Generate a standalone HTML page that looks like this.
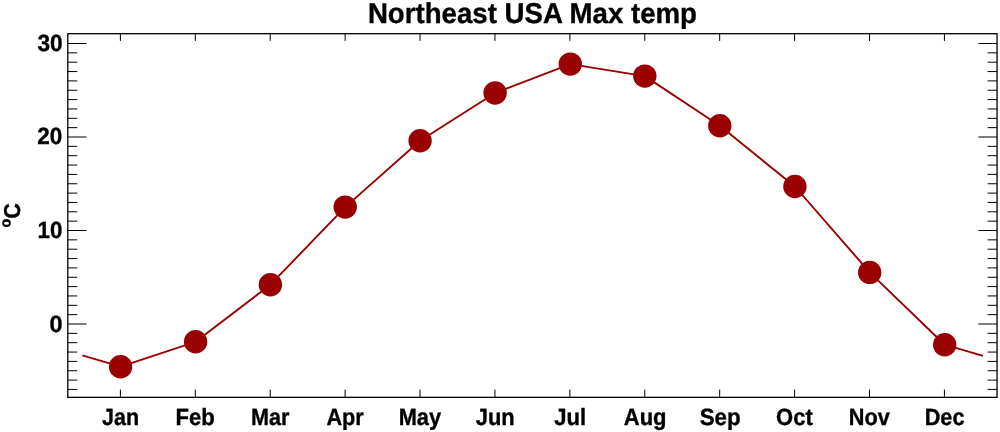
<!DOCTYPE html>
<html><head><meta charset="utf-8"><title>Northeast USA Max temp</title><style>
html,body{margin:0;padding:0;background:#fff;}
svg{display:block;will-change:transform;}
text{font-family:"Liberation Sans",sans-serif;font-weight:bold;fill:#000;stroke:#000;stroke-width:0.35px;text-rendering:geometricPrecision;}
</style></head><body>
<svg width="1000" height="432" viewBox="0 0 1000 432">
<rect width="1000" height="432" fill="#fff"/>
<text x="532.44" y="23.00" text-anchor="middle" font-size="28.6" textLength="329.10" lengthAdjust="spacingAndGlyphs">Northeast USA Max temp</text>
<path d="M67.80 389.45H77.25M997.05 389.45H987.60M67.80 380.10H77.25M997.05 380.10H987.60M67.80 370.75H77.25M997.05 370.75H987.60M67.80 361.40H77.25M997.05 361.40H987.60M67.80 352.05H77.25M997.05 352.05H987.60M67.80 342.70H77.25M997.05 342.70H987.60M67.80 333.35H77.25M997.05 333.35H987.60M67.80 324.00H86.50M997.05 324.00H978.35M67.80 314.65H77.25M997.05 314.65H987.60M67.80 305.30H77.25M997.05 305.30H987.60M67.80 295.95H77.25M997.05 295.95H987.60M67.80 286.60H77.25M997.05 286.60H987.60M67.80 277.25H77.25M997.05 277.25H987.60M67.80 267.90H77.25M997.05 267.90H987.60M67.80 258.55H77.25M997.05 258.55H987.60M67.80 249.20H77.25M997.05 249.20H987.60M67.80 239.85H77.25M997.05 239.85H987.60M67.80 230.50H86.50M997.05 230.50H978.35M67.80 221.15H77.25M997.05 221.15H987.60M67.80 211.80H77.25M997.05 211.80H987.60M67.80 202.45H77.25M997.05 202.45H987.60M67.80 193.10H77.25M997.05 193.10H987.60M67.80 183.75H77.25M997.05 183.75H987.60M67.80 174.40H77.25M997.05 174.40H987.60M67.80 165.05H77.25M997.05 165.05H987.60M67.80 155.70H77.25M997.05 155.70H987.60M67.80 146.35H77.25M997.05 146.35H987.60M67.80 137.00H86.50M997.05 137.00H978.35M67.80 127.65H77.25M997.05 127.65H987.60M67.80 118.30H77.25M997.05 118.30H987.60M67.80 108.95H77.25M997.05 108.95H987.60M67.80 99.60H77.25M997.05 99.60H987.60M67.80 90.25H77.25M997.05 90.25H987.60M67.80 80.90H77.25M997.05 80.90H987.60M67.80 71.55H77.25M997.05 71.55H987.60M67.80 62.20H77.25M997.05 62.20H987.60M67.80 52.85H77.25M997.05 52.85H987.60M67.80 43.50H86.50M997.05 43.50H978.35M120.40 397.35V389.6M120.40 33.70V40.9M195.31 397.35V389.6M195.31 33.70V40.9M270.22 397.35V389.6M270.22 33.70V40.9M345.13 397.35V389.6M345.13 33.70V40.9M420.04 397.35V389.6M420.04 33.70V40.9M494.95 397.35V389.6M494.95 33.70V40.9M569.86 397.35V389.6M569.86 33.70V40.9M644.77 397.35V389.6M644.77 33.70V40.9M719.68 397.35V389.6M719.68 33.70V40.9M794.59 397.35V389.6M794.59 33.70V40.9M869.50 397.35V389.6M869.50 33.70V40.9M944.41 397.35V389.6M944.41 33.70V40.9" stroke="#000" stroke-width="1" fill="none"/>
<rect x="67.8" y="33.7" width="929.25" height="363.65" fill="none" stroke="#000" stroke-width="1.3"/>
<polyline points="83.14,355.70 120.60,366.70 195.60,341.80 270.40,284.70 345.20,207.10 420.10,140.80 495.10,93.00 570.30,64.10 644.80,76.10 719.80,125.80 794.90,186.50 869.70,272.40 944.70,344.70 982.16,355.70" fill="none" stroke="#9b0000" stroke-width="1.9" stroke-linecap="round" stroke-linejoin="round"/>
<g fill="#9b0000"><circle cx="120.60" cy="366.70" r="11.7"/><circle cx="195.60" cy="341.80" r="11.7"/><circle cx="270.40" cy="284.70" r="11.7"/><circle cx="345.20" cy="207.10" r="11.7"/><circle cx="420.10" cy="140.80" r="11.7"/><circle cx="495.10" cy="93.00" r="11.7"/><circle cx="570.30" cy="64.10" r="11.7"/><circle cx="644.80" cy="76.10" r="11.7"/><circle cx="719.80" cy="125.80" r="11.7"/><circle cx="794.90" cy="186.50" r="11.7"/><circle cx="869.70" cy="272.40" r="11.7"/><circle cx="944.70" cy="344.70" r="11.7"/></g>
<text x="120.51" y="425.00" text-anchor="middle" font-size="23.5" textLength="37.07" lengthAdjust="spacingAndGlyphs">Jan</text><text x="195.22" y="425.00" text-anchor="middle" font-size="23.5" textLength="39.24" lengthAdjust="spacingAndGlyphs">Feb</text><text x="270.13" y="425.00" text-anchor="middle" font-size="23.5" textLength="38.42" lengthAdjust="spacingAndGlyphs">Mar</text><text x="345.13" y="425.00" text-anchor="middle" font-size="23.5" textLength="37.38" lengthAdjust="spacingAndGlyphs">Apr</text><text x="419.85" y="425.00" text-anchor="middle" font-size="23.5" textLength="42.43" lengthAdjust="spacingAndGlyphs">May</text><text x="495.22" y="425.00" text-anchor="middle" font-size="23.5" textLength="38.89" lengthAdjust="spacingAndGlyphs">Jun</text><text x="570.14" y="425.00" text-anchor="middle" font-size="23.5" textLength="31.91" lengthAdjust="spacingAndGlyphs">Jul</text><text x="645.17" y="425.00" text-anchor="middle" font-size="23.5" textLength="42.78" lengthAdjust="spacingAndGlyphs">Aug</text><text x="720.17" y="425.00" text-anchor="middle" font-size="23.5" textLength="40.99" lengthAdjust="spacingAndGlyphs">Sep</text><text x="794.45" y="425.00" text-anchor="middle" font-size="23.5" textLength="36.68" lengthAdjust="spacingAndGlyphs">Oct</text><text x="869.36" y="425.00" text-anchor="middle" font-size="23.5" textLength="41.00" lengthAdjust="spacingAndGlyphs">Nov</text><text x="944.60" y="425.00" text-anchor="middle" font-size="23.5" textLength="39.83" lengthAdjust="spacingAndGlyphs">Dec</text>
<text x="50.09" y="51.00" text-anchor="middle" font-size="23.5" textLength="25.20" lengthAdjust="spacingAndGlyphs">30</text><text x="49.87" y="144.00" text-anchor="middle" font-size="23.5" textLength="25.03" lengthAdjust="spacingAndGlyphs">20</text><text x="49.96" y="238.00" text-anchor="middle" font-size="23.5" textLength="24.83" lengthAdjust="spacingAndGlyphs">10</text><text x="56.05" y="332.00" text-anchor="middle" font-size="23.5" textLength="13.08" lengthAdjust="spacingAndGlyphs">0</text>
<text transform="translate(20.20,211.07) rotate(-90)" text-anchor="middle" font-size="23.0" textLength="15.59" lengthAdjust="spacingAndGlyphs">C</text>
<path fill-rule="evenodd" d="M2.2,223 a4.3,3.9 0 1,0 8.6,0 a4.3,3.9 0 1,0 -8.6,0 Z M3.9,223.3 a2.6,1.55 0 1,0 5.2,0 a2.6,1.55 0 1,0 -5.2,0 Z"/>
</svg>
</body></html>
